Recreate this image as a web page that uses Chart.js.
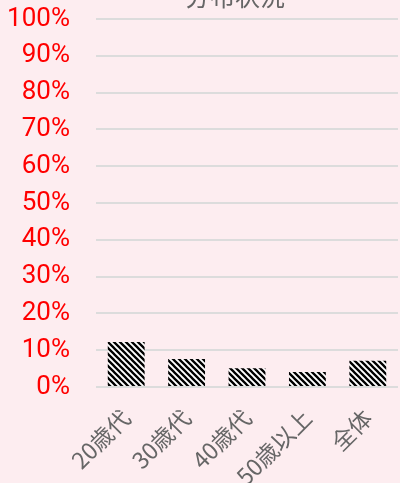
<!DOCTYPE html>
<html>
<head>
<meta charset="utf-8">
<script src="https://cdn.jsdelivr.net/npm/chart.js@4.4.0/dist/chart.umd.min.js"></script>
<style>
  html, body { margin: 0; padding: 0; background: #fdedf0; }
  #wrap { width: 400px; height: 483px; }
</style>
</head>
<body>
<div id="wrap"><canvas id="chart"></canvas></div>
<script>
const titleText = '分布状況';
const categories = ['20歳代', '30歳代', '40歳代', '50歳以上', '全体'];
const values = [12.2, 7.6, 5.1, 4.1, 7.1];
const yTicks = [0, 10, 20, 30, 40, 50, 60, 70, 80, 90, 100];

// diagonal black/white stripes
function makeStripes() {
    const s = 6;
    const c = document.createElement('canvas');
    c.width = s; c.height = s;
    const g = c.getContext('2d');
    g.fillStyle = '#ffffff';
    g.fillRect(0, 0, s, s);
    g.strokeStyle = '#000000';
    g.lineWidth = 2.3;
    g.beginPath();
    for (let k = -2; k <= 2; k++) {
        g.moveTo(-s, -s + k * s);
        g.lineTo(2 * s, 2 * s + k * s);
    }
    g.stroke();
    return g.createPattern(c, 'repeat');
}

const bgPlugin = {
    id: 'bg',
    beforeDraw(chart) {
        const ctx = chart.ctx;
        ctx.save();
        ctx.fillStyle = '#fdedf0';
        ctx.fillRect(0, 0, chart.width, chart.height);
        ctx.restore();
    }
};

// title sits mostly above the top edge, as in the original
const topTitle = {
    id: 'topTitle',
    afterDraw(chart) {
        const ctx = chart.ctx;
        ctx.save();
        ctx.fillStyle = '#666666';
        ctx.font = '25px "Noto Sans CJK JP"';
        ctx.textAlign = 'center';
        ctx.textBaseline = 'alphabetic';
        ctx.fillText(titleText, 235, 6);
        ctx.restore();
    }
};

const ctx = document.getElementById('chart').getContext('2d');
const chart = new Chart(ctx, {
    type: 'bar',
    data: {
        labels: categories,
        datasets: [{
            data: values,
            backgroundColor: makeStripes(),
            borderWidth: 0,
            barPercentage: 0.61,
            categoryPercentage: 1.0,
        }],
    },
    options: {
        responsive: true,
        maintainAspectRatio: false,
        animation: false,
        layout: { padding: { left: 0, right: 2, top: 19, bottom: 0 } },
        plugins: {
            legend: { display: false },
            tooltip: { enabled: false },
            title: { display: false },
        },
        scales: {
            y: {
                min: 0,
                max: 100,
                afterBuildTicks(axis) { axis.ticks = yTicks.map(v => ({ value: v })); },
                afterFit(axis) {
                    axis.width = 96;
                    axis.paddingTop = 0;
                    axis.paddingBottom = 0;
                },
                ticks: {
                    color: '#ff0000',
                    font: { family: 'Roboto', size: 26 },
                    padding: 26,
                    callback: v => v + '%',
                },
                grid: { color: '#dcdcdc', lineWidth: 2, drawTicks: false },
                border: { display: false },
            },
            x: {
                afterFit(axis) { axis.height = 96; },
                ticks: {
                    color: '#666666',
                    font: { family: '"Noto Sans CJK JP"', size: 23 },
                    maxRotation: 45,
                    minRotation: 45,
                    padding: 9,
                },
                grid: { display: false },
                border: { display: false },
            },
        },
    },
    plugins: [bgPlugin, topTitle],
});
</script>
</body>
</html>
